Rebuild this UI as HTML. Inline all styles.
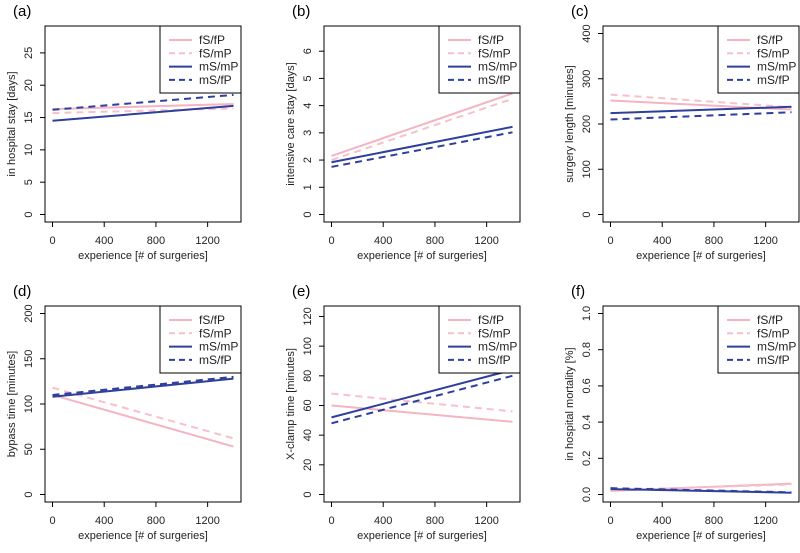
<!DOCTYPE html>
<html><head><meta charset="utf-8"><style>
body{margin:0;background:#fff;width:800px;height:548px;overflow:hidden}
svg{font-family:"Liberation Sans",Arial,sans-serif}
</style></head><body>
<svg id="chart" width="800" height="548" viewBox="0 0 800 548"></svg>
<script>
const seriesNames=["fS/fP","fS/mP","mS/mP","mS/fP"];
const panelLabels=["(a)","(b)","(c)","(d)","(e)","(f)"];
const yTitles=["in hospital stay [days]","intensive care stay [days]","surgery length [minutes]","bypass time [minutes]","X-clamp time [minutes]","in hospital mortality [%]"];
const yMax=[28,6.65,400,200,122,1];
const yTicks=[[0,5,10,15,20,25],[0,1,2,3,4,5,6],[0,100,200,300,400],[0,50,100,150,200],[0,20,40,60,80,100,120],[0,0.2,0.4,0.6,0.8,1.0]];
const xTicks=[0,400,800,1200];
const xEnds=[0,1400];
// per panel: [series][start,end]
const vA=[[16.3,17.1],[15.7,16.4],[14.5,16.8],[16.2,18.5]];
const vB=[[2.15,4.45],[2.0,4.25],[1.92,3.22],[1.75,3.02]];
const vC=[[252,232],[265,237],[224,238],[210,226]];
const vD=[[110,53],[118,62],[108,128],[110,130]];
const vE=[[60,49],[68,56],[52,84],[48,80]];
const vF=[[0.02,0.06],[0.025,0.055],[0.03,0.01],[0.035,0.012]];
const panelValues=[vA,vB,vC,vD,vE,vF];

const colors=["#f4b4c2","#f7c0cb","#2e3f9c","#2e3f9c"];
const dashes=["","7,5","","7,5"];
const NS="http://www.w3.org/2000/svg";
const svg=document.getElementById("chart");
function mk(tag,attrs,parent){const e=document.createElementNS(NS,tag);for(const k in attrs)e.setAttribute(k,attrs[k]);(parent||svg).appendChild(e);return e;}
const W=196,H=196;
panelLabels.forEach((lab,p)=>{
  const col=p%3,row=Math.floor(p/3);
  const L=45+col*279,T=26+row*280;
  const g=mk("g",{});
  
  
  const plotL=L+7.5,plotW=W-15,plotB=T+H-7.5,plotH=H-15;
  const xs=v=>plotL+(v/1400)*plotW;
  const ys=v=>plotB-(v/yMax[p])*plotH;
  let t=mk("text",{x:L-32,y:T-10,"font-size":15},g);t.textContent=lab;
  
  mk("rect",{x:L,y:T,width:W,height:H,fill:"none",stroke:"#000","stroke-width":1},g);
  // x axis
  const xa=mk("g",{},g);
  xTicks.forEach(v=>{mk("line",{x1:xs(v),x2:xs(v),y1:T+H,y2:T+H+5,stroke:"#000"},xa);
    const tt=mk("text",{x:xs(v),y:T+H+22,"font-size":11,"text-anchor":"middle",fill:"#222"},xa);tt.textContent=v;});
  let xt=mk("text",{x:L+W/2,y:T+H+37,"font-size":11,"text-anchor":"middle",fill:"#222"},g);xt.textContent="experience [# of surgeries]";
  
  // y axis
  const ya=mk("g",{},g);
  const tk=yTicks[p];
  tk.forEach(v=>{mk("line",{x1:L-5,x2:L,y1:ys(v),y2:ys(v),stroke:"#000"},ya);
    const tt=mk("text",{x:L-13,y:ys(v),"font-size":11,"text-anchor":"middle",fill:"#222",transform:`rotate(-90 ${L-13} ${ys(v)})`},ya);
    tt.textContent=(yMax[p]===1?v.toFixed(1):v);});
  const yx=L-30,yy=T+H/2;
  let yt=mk("text",{x:yx,y:yy,"font-size":11,"text-anchor":"middle",fill:"#222",transform:`rotate(-90 ${yx} ${yy})`},g);yt.textContent=yTitles[p];
  
  // series
  panelValues[p].forEach((v,s)=>{
    const ln=mk("line",{x1:xs(xEnds[0]),y1:ys(v[0]),x2:xs(xEnds[1]),y2:ys(v[1]),stroke:colors[s],"stroke-width":2});
    if(dashes[s])ln.setAttribute("stroke-dasharray",dashes[s]);
    g.appendChild(ln);
    
    
  });
  // legend
  const lg=mk("g",{},g);
  mk("rect",{x:L+115,y:T,width:W-115,height:67,fill:"#fff",stroke:"#000"},lg);
  seriesNames.forEach((n,s)=>{
    const y=T+14+s*13.3;
    const e=mk("g",{},lg);
    const l=mk("line",{x1:L+124,x2:L+147,y1:y,y2:y,stroke:colors[s],"stroke-width":2},e);
    if(dashes[s])l.setAttribute("stroke-dasharray","6,4");
    const tt=mk("text",{x:L+154,y:y+4,"font-size":12,fill:"#222"},e);tt.textContent=n;
  });
});
</script>
</body></html>
